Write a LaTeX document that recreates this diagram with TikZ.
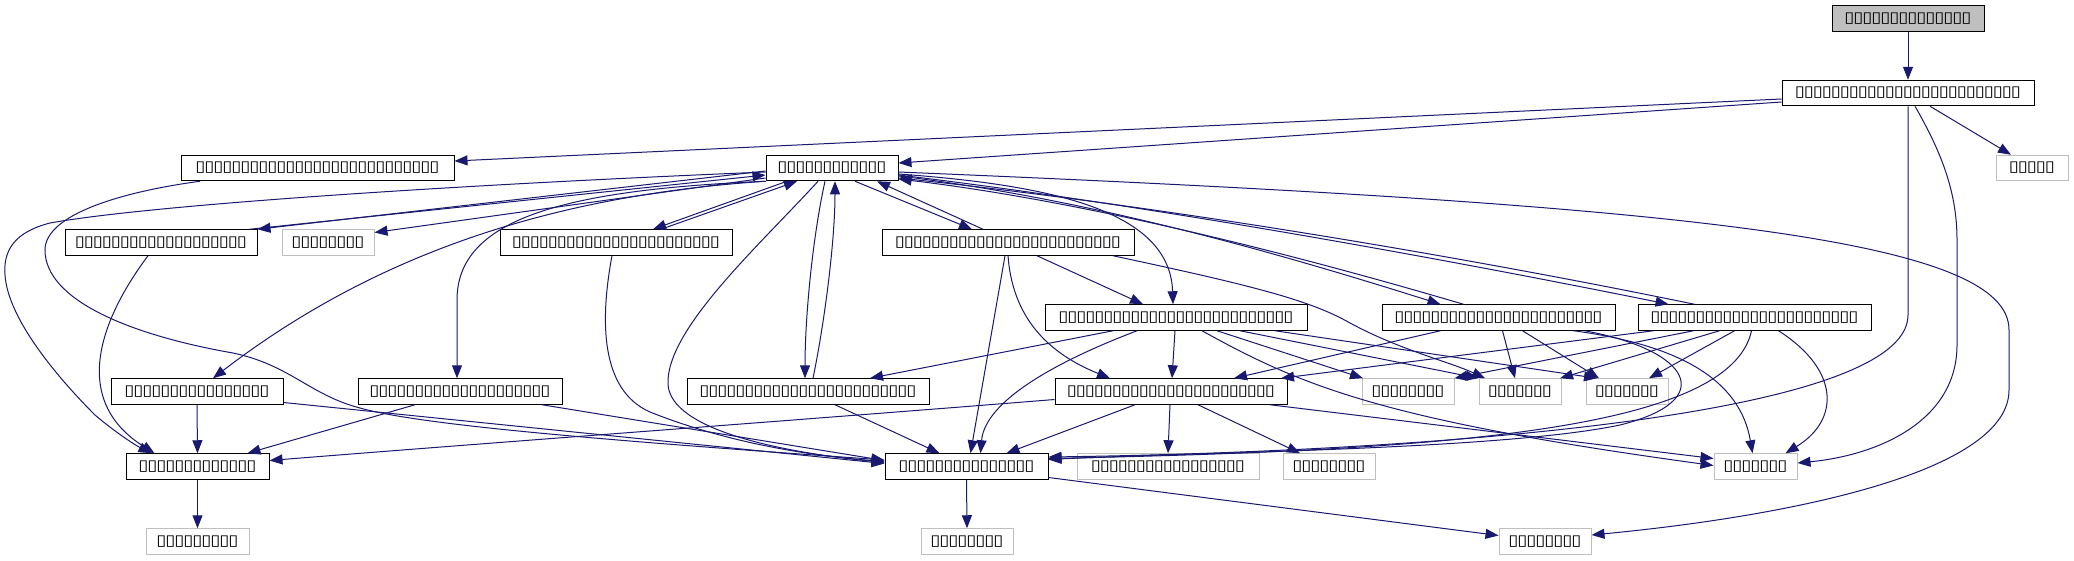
\documentclass[tikz,border=0pt]{standalone}
\usepackage{fontspec}
\newfontfamily\tofufont{DejaVu Sans}
\usetikzlibrary{arrows.meta}
\definecolor{edgec}{HTML}{191970}
\definecolor{greyb}{HTML}{BFBFBF}
\newcommand\tb{\makebox[9pt]{\scalebox{1.22}[1]{\tofufont\fontsize{15}{15}\selectfont ▯}}}
\newcommand\tofus[1]{\foreach \k in {1,...,#1}{\tb}}
\tikzset{
 box/.style={draw=black, line width=1pt, fill=white, inner sep=0pt, minimum height=25.5pt, text=black},
 gbox/.style={box, draw=greyb},
 e/.style={draw=edgec, line width=1pt, -{Triangle[length=13pt,width=10pt,color=edgec]}},
}
\begin{document}
\begin{tikzpicture}[x=1pt,y=-1pt]
\useasboundingbox[fill=white] (0,0) rectangle (2074,560);
% nodes
\node[box, fill=greyb, minimum width=152pt] (N1) at (1908,18.5) {\tofus{14}};
\node[box, minimum width=252pt] (N2) at (1908,93) {\tofus{25}};
\node[box, minimum width=273pt] (N3) at (317.5,168) {\tofus{27}};
\node[box, minimum width=132pt] (N4) at (832,168) {\tofus{12}};
\node[gbox, minimum width=72pt] (N5) at (2032,168) {\tofus{5}};
\node[box, minimum width=192pt] (N6) at (161,242.5) {\tofus{19}};
\node[gbox, minimum width=92pt] (N7) at (328,242.5) {\tofus{8}};
\node[box, minimum width=232pt] (N8) at (616,242.5) {\tofus{23}};
\node[box, minimum width=252pt] (N9) at (1008,242.5) {\tofus{25}};
\node[box, minimum width=262pt] (N10) at (1176,317.5) {\tofus{26}};
\node[box, minimum width=233pt] (N11) at (1498.5,317.5) {\tofus{23}};
\node[box, minimum width=233pt] (N12) at (1754.5,317.5) {\tofus{23}};
\node[box, minimum width=172pt] (N13) at (197,391.5) {\tofus{16}};
\node[box, minimum width=204pt] (N14) at (460,391.5) {\tofus{20}};
\node[box, minimum width=242pt] (N15) at (808,391.5) {\tofus{24}};
\node[box, minimum width=232pt] (N16) at (1171,391.5) {\tofus{23}};
\node[gbox, minimum width=92pt] (N17) at (1408,391.5) {\tofus{8}};
\node[gbox, minimum width=82pt] (N18) at (1520,391.5) {\tofus{7}};
\node[gbox, minimum width=82pt] (N19) at (1627,391.5) {\tofus{7}};
\node[box, minimum width=143pt] (N20) at (197.5,466.5) {\tofus{13}};
\node[box, minimum width=163pt] (N21) at (966.5,466.5) {\tofus{15}};
\node[gbox, minimum width=182pt] (N22) at (1168,466.5) {\tofus{17}};
\node[gbox, minimum width=92pt] (N23) at (1329,466.5) {\tofus{8}};
\node[gbox, minimum width=83pt] (N24) at (1755.5,466.5) {\tofus{7}};
\node[gbox, minimum width=103pt] (N25) at (197.5,541.5) {\tofus{9}};
\node[gbox, minimum width=92pt] (N26) at (967,541.5) {\tofus{8}};
\node[gbox, minimum width=92pt] (N27) at (1545,541.5) {\tofus{8}};
% edges
\draw[e] (N1.south) -- (N2.north);
\draw[e] ([yshift=-6pt]N2.west) -- ([yshift=7pt]N3.east);
\draw[e] ([yshift=-9pt]N2.west) -- ([yshift=5pt]N4.east);
\draw[e] ([xshift=22pt]N2.south) -- ([xshift=-21pt]N5.north);
\draw[e] (N2.south) -- (1908,315) .. controls (1908,420) and (1400,452) .. ([yshift=9.5pt]N21.east);
\draw[e] ([xshift=7pt]N2.south) .. controls (1940,150) and (1957,190) .. (1957,240) -- (1957,345) .. controls (1957,420) and (1880,455) .. ([yshift=3.5pt]N24.east);
\draw[e] ([yshift=-4pt]N4.east) .. controls (1700,205) and (2009,240) .. (2009,330) -- (2009,390) .. controls (2009,470) and (1800,515) .. ([yshift=6.5pt]N27.east);
% N3 -> N21
\draw[e] ([xshift=-117.5pt]N3.south) .. controls (120,192) and (45,215) .. (45,250) .. controls (45,300) and (130,335) .. (233,353) .. controls (290,365) and (310,395) .. (360,408) .. controls (420,425) and (600,440) .. ([yshift=6.5pt]N21.west);
% N4 -> N20
\draw[e] ([yshift=-4pt]N4.west) .. controls (450,185) and (150,205) .. (50,223) .. controls (15,232) and (3,250) .. (5,275) .. controls (8,320) and (60,380) .. (95,415) .. controls (115,432) and (135,445) .. ([xshift=-46pt]N20.north);
% N6 -> N20
\draw[e] ([xshift=-13pt]N6.south) .. controls (100,320) and (70,400) .. ([xshift=-43pt]N20.north);
% N4 <-> N6
\draw[e] ([yshift=-3pt]N4.west) -- (N6.north east);
\draw[e] ([xshift=-8pt]N6.north east) -- ([yshift=-7pt]N4.west);
% N4 -> N7
\draw[e] ([yshift=-10pt]N4.west) -- ([yshift=10pt]N7.east);
% N4 -> N13, N14
\draw[e] (N4.south west) .. controls (560,195) and (380,250) .. ([xshift=16pt]N13.north);
\draw[e] (N4.south west) .. controls (560,190) and (457,220) .. (457,300) -- ([xshift=-3pt]N14.north);
% N4 <-> N8
\draw[e] ([xshift=-45pt]N4.south) -- ([xshift=37pt]N8.north);
\draw[e] ([xshift=45pt]N8.north) -- ([xshift=-35pt]N4.south);
% N4 -> N21
\draw[e] ([xshift=-14pt]N4.south) .. controls (760,245) and (665,330) .. (668,385) .. controls (672,430) and (780,452) .. ([yshift=4pt]N21.west);
% N4 <-> N15
\draw[e] ([xshift=-7pt]N4.south) .. controls (812,240) and (805,320) .. ([xshift=-3pt]N15.north);
\draw[e] ([xshift=5pt]N15.north) .. controls (825,320) and (835,240) .. ([xshift=3pt]N4.south);
% N4 <-> N9
\draw[e] ([xshift=23pt]N4.south) -- ([xshift=-36pt]N9.north);
\draw[e] ([xshift=-25pt]N9.north) -- ([xshift=45pt]N4.south);
% N4 -> N10
\draw[e] ([yshift=-6pt]N4.east) .. controls (1050,185) and (1170,210) .. ([xshift=-3pt]N10.north);
% N4 <-> N11
\draw[e] ([yshift=-8pt]N4.east) .. controls (1100,200) and (1300,260) .. ([xshift=-58pt]N11.north);
\draw[e] ([xshift=-35pt]N11.north) .. controls (1320,262) and (1100,203) .. ([yshift=-11pt]N4.east);
% N4 <-> N12
\draw[e] ([yshift=-7pt]N4.east) .. controls (1150,205) and (1450,260) .. ([xshift=-86pt]N12.north);
\draw[e] ([xshift=-60pt]N12.north) .. controls (1470,258) and (1170,207) .. ([yshift=-10pt]N4.east);
% N8 -> N21
\draw[e] ([xshift=-4pt]N8.south) .. controls (600,320) and (600,390) .. (650,412) .. controls (720,440) and (800,455) .. ([yshift=5pt]N21.west);
% N9 edges
\draw[e] ([xshift=-3pt]N9.south) -- ([xshift=4pt]N21.north);
\draw[e] (N9.south) .. controls (1012,310) and (1040,350) .. ([xshift=-61pt]N16.north);
\draw[e] ([xshift=29pt]N9.south) -- ([xshift=-33pt]N10.north);
\draw[e] ([xshift=105pt]N9.south) .. controls (1250,285) and (1310,300) .. (1350,323) .. controls (1400,350) and (1450,362) .. ([xshift=-35pt]N18.north);
% N10 edges
\draw[e] ([xshift=-63pt]N10.south) -- ([xshift=62pt]N15.north);
\draw[e] ([xshift=-39pt]N10.south) .. controls (1060,360) and (985,400) .. ([xshift=14pt]N21.north);
\draw[e] ([xshift=-1pt]N10.south) -- ([xshift=1pt]N16.north);
\draw[e] ([xshift=26pt]N10.south) .. controls (1300,385) and (1380,420) .. ([yshift=1pt]N24.west);
\draw[e] ([xshift=41pt]N10.south) -- ([xshift=-45pt]N17.north);
\draw[e] ([xshift=64pt]N10.south) -- (N18.north west);
\draw[e] ([xshift=99pt]N10.south) -- ([xshift=-30pt]N19.north);
% N11 edges
\draw[e] ([xshift=-58pt]N11.south) -- ([xshift=63pt]N16.north);
\draw[e] ([xshift=4pt]N11.south) -- ([xshift=-5pt]N18.north);
\draw[e] ([xshift=24pt]N11.south) -- ([xshift=-28pt]N19.north);
\draw[e] ([xshift=75pt]N11.south) .. controls (1680,345) and (1740,380) .. ([xshift=-3pt]N24.north);
\draw[e] ([xshift=86pt]N11.south) .. controls (1690,350) and (1720,400) .. (1620,425) .. controls (1500,450) and (1200,452) .. ([yshift=7pt]N21.east);
% N12 edges
\draw[e] ([xshift=-101pt]N12.south) -- ([xshift=110pt]N16.north);
\draw[e] ([xshift=-61pt]N12.south) -- (N17.north east);
\draw[e] ([xshift=-35pt]N12.south) -- ([xshift=40pt]N18.north);
\draw[e] ([xshift=-20pt]N12.south) -- ([xshift=22pt]N19.north);
\draw[e] ([xshift=-3pt]N12.south) .. controls (1730,430) and (1450,450) .. ([yshift=8pt]N21.east);
\draw[e] ([xshift=24pt]N12.south) .. controls (1840,370) and (1840,420) .. ([xshift=30pt]N24.north);
% lower rows
\draw[e] (N13.south) -- (N20.north);
\draw[e] ([yshift=-11pt]N13.east) -- ([yshift=3pt]N21.west);
\draw[e] ([xshift=-45pt]N14.south) -- ([xshift=50pt]N20.north);
\draw[e] ([xshift=82pt]N14.south) -- ([yshift=6pt]N21.west);
\draw[e] ([xshift=27pt]N15.south) -- ([xshift=-27pt]N21.north);
\draw[e] ([yshift=-8pt]N16.west) .. controls (800,420) and (500,442) .. ([yshift=6pt]N20.east);
\draw[e] ([xshift=-36pt]N16.south) -- ([xshift=40pt]N21.north);
\draw[e] ([xshift=-1pt]N16.south) -- (N22.north);
\draw[e] ([xshift=27pt]N16.south) -- ([xshift=-29pt]N23.north);
\draw[e] ([xshift=99pt]N16.south) -- ([yshift=8pt]N24.west);
\draw[e] (N20.south) -- (N25.north);
\draw[e] (N21.south) -- (N26.north);
\draw[e] ([yshift=-11pt]N21.east) -- ([yshift=6pt]N27.west);
\end{tikzpicture}
\end{document}
